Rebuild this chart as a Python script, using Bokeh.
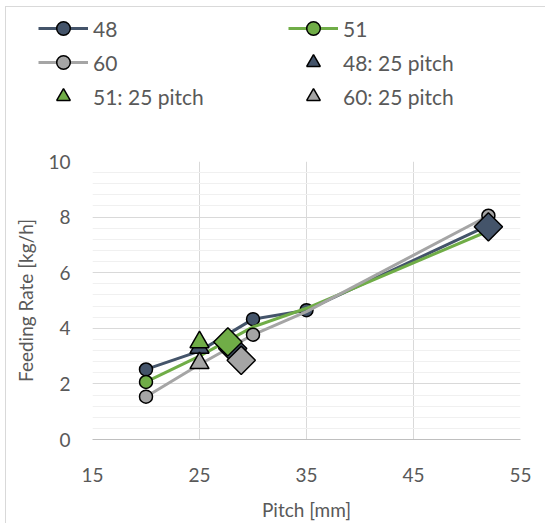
import numpy as np
from bokeh.plotting import figure
from bokeh.models import Legend, LegendItem, FixedTicker, Range1d
from bokeh.embed import file_html
from bokeh.resources import INLINE

# ---- data ----
pitch_48 = [20, 25, 30, 35, 52]
rate_48 = [2.52, 3.18, 4.33, 4.65, 7.7]
marked_48 = [True, False, True, True, True]

pitch_51 = [20, 25, 30, 35, 52]
rate_51 = [2.07, 3.0, 4.05, 4.72, 7.5]
marked_51 = [True, False, False, False, True]

pitch_60 = [20, 25, 30, 35, 52]
rate_60 = [1.54, 2.7, 3.77, 4.6, 8.05]
marked_60 = [True, False, True, False, True]

tri_pitch = [25]
tri_48 = [3.3]
tri_51 = [3.5]
tri_60 = [2.75]

dia_pitch_48 = [28.1, 52]
dia_rate_48 = [3.27, 7.65]
dia_pitch_51 = [27.65]
dia_rate_51 = [3.51]
dia_pitch_60 = [28.9]
dia_rate_60 = [2.85]

x_ticks = [15, 25, 35, 45, 55]
y_ticks = [0, 2, 4, 6, 8, 10]

C48 = "#44546A"
C51 = "#70AD47"
C60 = "#A5A5A5"
TXT = "#595959"
FONT = "Lato"
BORDER = "1px solid #D9D9D9"
W = 540
LEG_H = 114


def sel(xs, ys, m):
    return [x for x, k in zip(xs, m) if k], [y for y, k in zip(ys, m) if k]


# ---------------- main chart ----------------
p = figure(frame_width=428, frame_height=278,
           x_range=Range1d(15, 55), y_range=Range1d(0, 10),
           output_backend="svg", toolbar_location=None,
           min_border_left=86, min_border_top=41,
           min_border_right=W - 86 - 428, min_border_bottom=77)
p.outline_line_color = None
p.styles = {"margin-left": "5px", "border-left": BORDER}

p.xaxis.ticker = FixedTicker(ticks=x_ticks)
p.yaxis.ticker = FixedTicker(ticks=y_ticks, minor_ticks=list(np.arange(0, 10.01, 0.4)))
p.xgrid.grid_line_color = "#D9D9D9"
p.ygrid.grid_line_color = "#D9D9D9"
p.ygrid.minor_grid_line_color = "#F0F0F0"
p.xgrid.minor_grid_line_color = None

for ax in (p.xaxis, p.yaxis):
    ax.major_tick_line_color = None
    ax.minor_tick_line_color = None
    ax.major_label_text_font = FONT
    ax.major_label_text_font_size = "19px"
    ax.major_label_text_color = TXT
    ax.axis_label_text_font = FONT
    ax.axis_label_text_font_size = "19px"
    ax.axis_label_text_font_style = "normal"
    ax.axis_label_text_color = TXT
p.xaxis.axis_line_color = "#BFBFBF"
p.yaxis.axis_line_color = None
p.xaxis.axis_label = "Pitch [mm]"
p.yaxis.axis_label = "Feeding Rate [kg/h]"
p.xaxis.major_label_standoff = 22
p.yaxis.major_label_standoff = 16
p.xaxis.axis_label_standoff = 13
p.yaxis.axis_label_standoff = 8

series = (("48", pitch_48, rate_48, marked_48, C48),
          ("51", pitch_51, rate_51, marked_51, C51),
          ("60", pitch_60, rate_60, marked_60, C60))
for name, xs, ys, m, col in series:
    p.line(xs, ys, line_color=col, line_width=3)
    mx, my = sel(xs, ys, m)
    p.scatter(mx, my, marker="circle", size=13, fill_color=col,
              line_color="black", line_width=1.5)

triangles = (("48", tri_48, C48), ("51", tri_51, C51), ("60", tri_60, C60))
for name, ys, col in triangles:
    p.scatter(tri_pitch, ys, marker="triangle", size=19, fill_color=col,
              line_color="black", line_width=1.5)

for xs, ys, col in ((dia_pitch_48, dia_rate_48, C48),
                    (dia_pitch_51, dia_rate_51, C51),
                    (dia_pitch_60, dia_rate_60, C60)):
    p.scatter(xs, ys, marker="square", angle=np.pi / 4, size=20, fill_color=col,
              line_color="black", line_width=1.5)

# ---------------- legend strip (separate root, same series) ----------------
# its ranges are set away from the data, so only the legend samples show
lf = figure(width=W, height=LEG_H, x_range=Range1d(100, 101), y_range=Range1d(100, 101),
            output_backend="svg", toolbar_location=None,
            min_border=0, x_axis_location=None, y_axis_location=None)
lf.outline_line_color = None
lf.grid.visible = False
lf.styles = {"margin-left": "5px", "margin-top": "6px",
             "border-left": BORDER, "border-top": BORDER}

leg_lines = {}
for name, xs, ys, m, col in series:
    lr = lf.line(xs, ys, line_color=col, line_width=3)
    cr = lf.scatter(xs, ys, marker="circle", size=13, fill_color=col,
                    line_color="black", line_width=1.5)
    leg_lines[name] = [lr, cr]
leg_tris = {}
for name, ys, col in triangles:
    leg_tris[name] = lf.scatter(tri_pitch, ys, marker="triangle", size=13, fill_color=col,
                                line_color="black", line_width=1.5)


def make_legend(items, vx):
    lg = Legend(items=items, location=(vx, 8), orientation="vertical",
                glyph_width=50, glyph_height=34, label_height=34, spacing=0,
                padding=0, margin=0, border_line_color=None,
                background_fill_alpha=0, label_standoff=5,
                label_text_font=FONT, label_text_font_size="21px",
                label_text_color=TXT)
    lf.add_layout(lg)


make_legend([LegendItem(label="48", renderers=leg_lines["48"]),
             LegendItem(label="60", renderers=leg_lines["60"]),
             LegendItem(label="51: 25 pitch", renderers=[leg_tris["51"]])], 32)
make_legend([LegendItem(label="51", renderers=leg_lines["51"]),
             LegendItem(label="48: 25 pitch", renderers=[leg_tris["48"]]),
             LegendItem(label="60: 25 pitch", renderers=[leg_tris["60"]])], 282)

open("out.html", "w").write(file_html([lf, p], INLINE))
